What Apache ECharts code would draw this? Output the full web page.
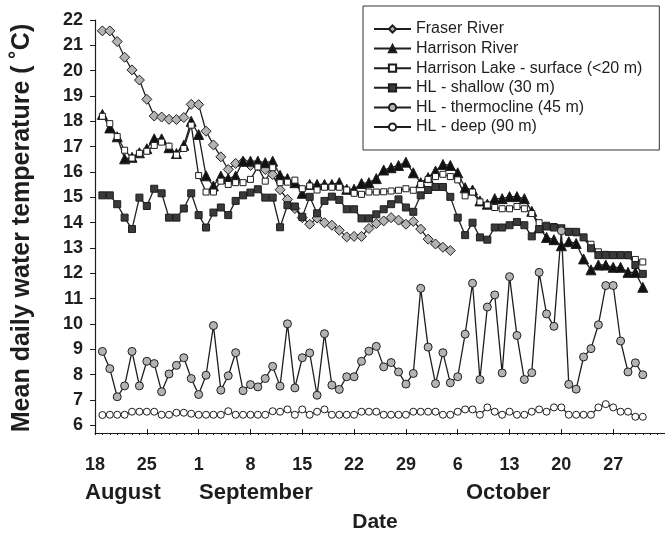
<!DOCTYPE html>
<html>
<head>
<meta charset="utf-8">
<script src="https://cdn.jsdelivr.net/npm/echarts@6.0.0/dist/echarts.min.js"></script>
<style>
html,body{margin:0;padding:0;background:#fff;}
#chart{width:665px;height:537px;}
</style>
</head>
<body>
<div id="chart"></div>
<script>
// Day index 0 = 18 August; all series start on day 1 (19 August)
const startDay = 1;
const xTickLabels = ['18','25','1','8','15','22','29','6','13','20','27'];
const monthLabels = ['August','September','October'];
const yTicks = [6,7,8,9,10,11,12,13,14,15,16,17,18,19,20,21,22];
const seriesNames = ['Fraser River','Harrison River','Harrison Lake - surface (<20 m)','HL - shallow (30 m)','HL - thermocline (45 m)','HL - deep (90 m)'];

const fraser = [21.57,21.57,21.15,20.53,20.03,19.63,18.87,18.21,18.17,18.08,
  18.07,18.15,18.67,18.66,17.61,17.07,16.6,16.1,16.34,16.4,
  16.26,16.25,16.1,15.9,15.3,14.92,14.56,14.2,13.94,14.18,
  14.0,13.9,13.7,13.44,13.46,13.46,13.77,13.97,14.07,14.2,
  14.1,13.94,14.05,13.75,13.35,13.16,13.03,12.9];

const harrison = [18.27,17.74,17.39,16.52,16.58,16.76,16.92,17.31,17.31,16.96,
  16.73,17.06,18.0,17.48,15.85,15.45,15.84,15.74,15.84,16.43,
  16.43,16.43,16.37,16.43,15.87,15.74,15.58,15.16,15.51,15.51,
  15.51,15.51,15.58,15.32,15.32,15.55,15.58,15.74,16.08,16.17,
  16.26,16.39,15.97,15.58,15.78,16.04,16.3,16.26,15.97,15.38,
  15.29,14.86,14.73,14.95,14.95,15.03,15.03,14.95,14.45,13.8,
  13.42,13.33,13.09,13.25,13.18,12.57,12.14,12.33,12.33,12.24,
  12.24,12.04,12.04,11.45];

const surface = [18.2,17.91,17.4,16.86,16.55,16.74,16.82,17.05,17.18,17.02,
  16.67,16.93,17.85,15.86,15.21,15.21,15.64,15.51,15.58,15.58,
  15.71,16.2,15.64,16.17,15.58,15.6,15.68,15.34,15.45,15.29,
  15.4,15.4,15.4,15.29,15.16,15.12,15.21,15.21,15.22,15.25,
  15.28,15.34,15.28,15.51,15.71,15.82,15.91,15.82,15.69,15.06,
  15.21,14.82,14.7,14.6,14.55,14.55,14.64,14.55,14.36,14.0,
  13.9,13.85,13.75,13.64,13.6,13.42,13.15,12.85,12.75,12.72,
  12.72,12.7,12.55,12.45];

const shallow = [15.08,15.08,14.73,14.2,13.75,14.99,14.66,15.34,15.16,14.2,
  14.2,14.56,15.16,14.3,13.81,14.4,14.6,14.3,14.86,15.08,
  15.19,15.32,14.99,14.99,13.82,14.69,14.64,14.23,15.02,14.37,
  14.86,15.03,14.9,14.53,14.53,14.17,14.17,14.33,14.53,14.73,
  14.92,14.6,14.43,15.08,15.29,15.41,15.41,15.02,14.2,13.51,
  14.0,13.42,13.33,13.81,13.81,13.9,14.03,13.9,13.46,13.75,
  13.85,13.81,13.78,13.64,13.64,13.42,12.99,12.72,12.72,12.72,
  12.72,12.72,12.33,11.98];

const thermocline = [8.92,8.24,7.13,7.56,8.92,7.56,8.53,8.44,7.33,8.03,
  8.37,8.67,7.85,7.22,7.98,9.94,7.39,7.96,8.87,7.37,
  7.61,7.52,7.85,8.33,7.55,10.01,7.48,8.67,8.86,7.19,
  9.62,7.59,7.42,7.92,7.92,8.53,8.93,9.12,8.31,8.48,
  8.11,7.63,8.05,11.41,9.09,7.65,8.87,7.68,7.92,9.6,
  11.61,7.81,10.67,11.15,8.07,11.87,9.55,7.81,8.08,12.04,
  10.4,9.91,13.68,7.62,7.43,8.7,9.03,9.97,11.52,11.52,
  9.33,8.11,8.47,8.0];

const deep = [6.41,6.42,6.42,6.42,6.54,6.54,6.54,6.54,6.42,6.42,
  6.5,6.5,6.46,6.42,6.42,6.42,6.42,6.56,6.42,6.42,
  6.42,6.42,6.42,6.56,6.54,6.63,6.42,6.63,6.42,6.54,
  6.63,6.42,6.42,6.42,6.42,6.54,6.54,6.54,6.42,6.42,
  6.42,6.42,6.54,6.54,6.54,6.54,6.42,6.42,6.54,6.63,
  6.63,6.42,6.71,6.54,6.42,6.54,6.42,6.42,6.54,6.63,
  6.54,6.71,6.71,6.42,6.42,6.42,6.42,6.71,6.84,6.71,
  6.54,6.54,6.34,6.34];

const FONT = '"Liberation Sans", Arial, sans-serif';
const INK = '#1e1e1e';

function pts(arr){ return arr.map((v,i)=>[startDay+i, v]); }

function mk(name, arr, symbol, size, fill){
  return {
    name: name, type: 'line', data: pts(arr),
    xAxisIndex: 0, yAxisIndex: 0,
    symbol: symbol, symbolSize: size, showAllSymbol: true,
    lineStyle: {color: INK, width: 1.3},
    itemStyle: {color: fill, borderColor: INK, borderWidth: 1},
    emphasis: {disabled: true},
    z: 3
  };
}

const chart = echarts.init(document.getElementById('chart'), null, {renderer:'canvas'});

const gridBox = {left: 95, top: 20, right: -18, bottom: 104, containLabel: false};
const boldText = function(size){ return {fontSize: size, fontWeight: 'bold', fill: INK, fontFamily: FONT}; };

chart.setOption({
  animation: false,
  backgroundColor: '#fff',
  textStyle: {fontFamily: FONT},
  grid: [Object.assign({}, gridBox), Object.assign({}, gridBox)],
  xAxis: [
    {
      type: 'value', gridIndex: 0, min: 0, max: 77, interval: 7, position: 'bottom',
      axisLine: {show: true, onZero: false, lineStyle: {color: INK, width: 1.2}},
      axisTick: {show: true, inside: false, length: 2, lineStyle: {color: INK, width: 1}},
      minorTick: {show: true, splitNumber: 7, length: 2, lineStyle: {color: INK, width: 1}},
      splitLine: {show: false}, minorSplitLine: {show: false},
      axisLabel: {
        formatter: function(v){ const i = Math.round(v/7); return (Math.abs(v - i*7) < 1e-6 && xTickLabels[i] !== undefined) ? xTickLabels[i] : ''; },
        margin: 23, fontSize: 18, fontWeight: 'bold', color: INK, fontFamily: FONT,
        showMaxLabel: false
      }
    },
    {
      type: 'value', gridIndex: 1, min: 0, max: 77, interval: 7, position: 'bottom',
      axisLine: {show: false, onZero: false},
      axisTick: {show: true, inside: true, length: 4, lineStyle: {color: INK, width: 1}},
      axisLabel: {show: false}, splitLine: {show: false}
    }
  ],
  yAxis: [
    {
      type: 'value', gridIndex: 0, min: 5.7, max: 22,
      axisLine: {show: true, onZero: false, lineStyle: {color: INK, width: 1.2}},
      axisTick: {show: true, inside: false, length: 5, customValues: yTicks, lineStyle: {color: INK, width: 1}},
      axisLabel: {customValues: yTicks, margin: 12, fontSize: 18, fontWeight: 'bold', color: INK, fontFamily: FONT},
      splitLine: {show: false}
    },
    {
      type: 'value', gridIndex: 1, min: 5.7, max: 22, show: false
    }
  ],
  legend: {
    orient: 'vertical', left: 363, top: 6,
    itemWidth: 37, itemHeight: 9, itemGap: 3.6,
    padding: [15, 17, 15, 10],
    borderColor: '#333', borderWidth: 1, backgroundColor: '#fff',
    textStyle: {fontSize: 16, color: INK, fontFamily: FONT},
    data: seriesNames, selectedMode: false
  },
  graphic: [
    {type: 'text', left: 85, top: 482, style: boldText(22)},
    {type: 'text', left: 199, top: 482, style: boldText(22)},
    {type: 'text', left: 466, top: 482, style: boldText(22)},
    {type: 'text', x: 375, y: 522, style: Object.assign(boldText(21), {text: 'Date', align: 'center', verticalAlign: 'middle'})},
    {type: 'text', x: 22, y: 228, rotation: Math.PI/2,
     style: Object.assign(boldText(25), {text: 'Mean daily water temperature ( \u02DAC)', align: 'center', verticalAlign: 'middle'})}
  ].map(function(g, i){ if (i < 3) { g.style = Object.assign({}, g.style, {text: monthLabels[i]}); } return g; }),
  series: [
    mk(seriesNames[0], fraser, 'diamond', 10, '#b3b3b3'),
    mk(seriesNames[1], harrison, 'triangle', 10, '#111111'),
    mk(seriesNames[2], surface, 'rect', 6, '#ffffff'),
    mk(seriesNames[3], shallow, 'rect', 7, '#3a3a3a'),
    mk(seriesNames[4], thermocline, 'circle', 8, '#b3b3b3'),
    mk(seriesNames[5], deep, 'circle', 7, '#ffffff')
  ]
});
</script>
</body>
</html>
